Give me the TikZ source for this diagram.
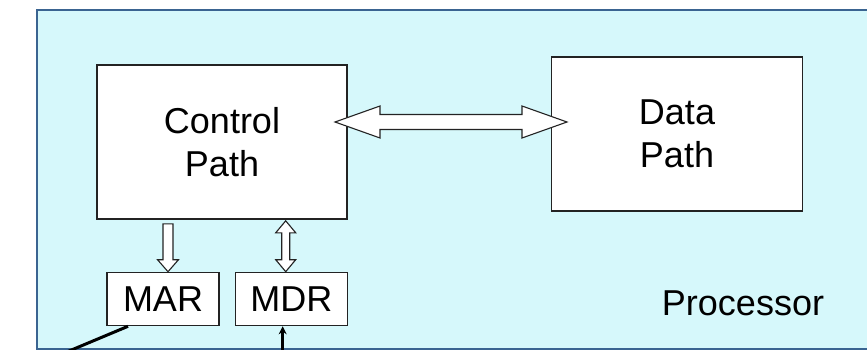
\documentclass[tikz,border=0pt]{standalone}
\usepackage{fontspec}
\setmainfont{Liberation Sans}
\usetikzlibrary{calc,arrows.meta}
\definecolor{procfill}{RGB}{214,248,251}
\definecolor{procline}{RGB}{58,100,145}
\definecolor{boxline}{RGB}{35,35,35}
\tikzset{
  blockbox/.style={draw=boxline,line width=1.6pt,fill=white,inner sep=0pt,align=center,
    font=\fontsize{36}{43}\selectfont},
  fatarrow/.style={draw=boxline,line width=1.1pt,fill=white,line join=miter},
  wire/.style={draw=black,line width=3pt},
}
\begin{document}
\begin{tikzpicture}[x=1pt,y=-1pt]
\useasboundingbox (0,0) rectangle (867,350);
\clip (0,0) rectangle (867,350);
% processor
\node[draw=procline,line width=2pt,fill=procfill,minimum width=834pt,minimum height=339pt,inner sep=0pt,anchor=north west] (proc) at (36,9) {};
\node[font=\fontsize{36}{43}\selectfont,anchor=center] (proclabel) at (743,303) {Processor};
% blocks
\node[blockbox,minimum width=250pt,minimum height=154pt] (cp) at (222,142) {Control\\Path};
\node[blockbox,minimum width=251pt,minimum height=154pt] (dp) at (677,134) {Data\\Path};
\node[blockbox,minimum width=112pt,minimum height=53pt] (mar) at (163,299) {MAR};
\node[blockbox,minimum width=112pt,minimum height=53pt] (mdr) at (291.4,299) {MDR};
% horizontal double arrow between control and data path
\coordinate (hl) at (335,122);
\coordinate (hr) at (567,122);
\draw[fatarrow] (hl) -- ($(hl)+(45,-16)$) -- ($(hl)+(45,-7.5)$) -- ($(hr)+(-45,-7.5)$) -- ($(hr)+(-45,-16)$)
  -- (hr) -- ($(hr)+(-45,16)$) -- ($(hr)+(-45,7.5)$) -- ($(hl)+(45,7.5)$) -- ($(hl)+(45,16)$) -- cycle;
% control -> MAR
\coordinate (ma) at (cp.south -| 168,0);
\coordinate (mb) at (mar.north -| 168,0);
\draw[fatarrow] ($(ma)+(-5,4)$) -- ($(ma)+(5,4)$) -- ($(mb)+(5,-12)$) -- ($(mb)+(10.5,-12)$) -- (mb)
  -- ($(mb)+(-10.5,-12)$) -- ($(mb)+(-5,-12)$) -- cycle;
% control <-> MDR
\coordinate (da) at ($(cp.south -| 285.7,0)+(0,1)$);
\coordinate (db) at (mdr.north -| 285.7,0);
\draw[fatarrow] (da) -- ($(da)+(10,12)$) -- ($(da)+(4,12)$) -- ($(db)+(4,-12)$) -- ($(db)+(10,-12)$) -- (db)
  -- ($(db)+(-10,-12)$) -- ($(db)+(-4,-12)$) -- ($(da)+(-4,12)$) -- ($(da)+(-10,12)$) -- cycle;
% outgoing wires
\coordinate (marout) at (50,359);
\draw[wire] (mar.south -| 128,0) -- (marout);
\coordinate (mdrin) at (282.7,360);
\draw[wire,-{Stealth[length=8pt,width=8pt]}] (mdrin) -- (mdr.south -| 282.7,0);
\end{tikzpicture}
\end{document}
